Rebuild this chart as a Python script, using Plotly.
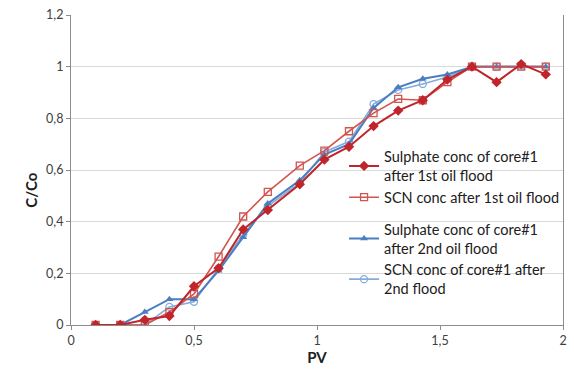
import plotly.graph_objects as go

pv = [0.1, 0.2, 0.3, 0.4, 0.5, 0.6, 0.7, 0.8, 0.93, 1.03, 1.13, 1.23, 1.33, 1.43, 1.53, 1.63, 1.73, 1.83, 1.93]

sulphate_1st = [0.0, 0.0, 0.02, 0.035, 0.15, 0.22, 0.37, 0.445, 0.545, 0.64, 0.69, 0.77, 0.83, 0.87, 0.95, 1.0, 0.94, 1.01, 0.97]
scn_1st      = [0.0, 0.0, 0.0, 0.05, 0.12, 0.265, 0.42, 0.515, 0.617, 0.675, 0.75, 0.82, 0.875, 0.87, 0.94, 1.0, 1.0, 1.0, 1.0]
sulphate_2nd = [0.0, 0.0, 0.05, 0.10, 0.10, 0.21, 0.34, 0.47, 0.56, 0.66, 0.70, 0.84, 0.92, 0.953, 0.97, 1.0, 1.0, 1.0, 1.0]
scn_2nd      = [0.0, 0.0, 0.0, 0.07, 0.09, 0.22, 0.35, 0.46, 0.55, 0.67, 0.71, 0.855, 0.91, 0.933, 0.96, 1.0, 1.0, 1.0, 1.0]

names = [
    "Sulphate conc of core#1<br>after 1st oil flood",
    "SCN conc after 1st oil flood",
    "Sulphate conc of core#1<br>after 2nd oil flood",
    "SCN conc of core#1 after<br>2nd flood",
]

fig = go.Figure()
fig.add_trace(go.Scatter(x=pv, y=scn_2nd, name=names[3], mode="lines+markers",
                         legendgroup="g2", legendrank=4,
                         line=dict(color="#86ABDB", width=1.6),
                         marker=dict(symbol="circle-open", size=7, color="#86ABDB", line=dict(width=1.3))))
fig.add_trace(go.Scatter(x=pv, y=sulphate_2nd, name=names[2], mode="lines+markers",
                         legendgroup="g2", legendrank=3,
                         line=dict(color="#4A7EC0", width=2),
                         marker=dict(symbol="triangle-up", size=7, color="#4A7EC0")))
fig.add_trace(go.Scatter(x=pv, y=scn_1st, name=names[1], mode="lines+markers",
                         legendgroup="g1", legendrank=2,
                         line=dict(color="#D2544F", width=1.6),
                         marker=dict(symbol="square-open", size=7, color="#D2544F", line=dict(width=1.3))))
fig.add_trace(go.Scatter(x=pv, y=sulphate_1st, name=names[0], mode="lines+markers",
                         legendgroup="g1", legendrank=1,
                         line=dict(color="#C0252B", width=2),
                         marker=dict(symbol="diamond", size=8, color="#C0252B")))

fig.update_layout(
    width=574, height=370,
    margin=dict(l=71, r=7, t=14, b=45),
    paper_bgcolor="white", plot_bgcolor="white",
    separators=", ",
    font=dict(family="Lato, Open Sans, sans-serif", size=12.5, color="#404040"),
    showlegend=True,
    legend=dict(x=0.555, y=0.595, xanchor="left", yanchor="top",
                bgcolor="rgba(0,0,0,0)", font=dict(size=14.5, color="#202020"),
                tracegroupgap=10, itemwidth=30, traceorder="grouped"),
    xaxis=dict(range=[0, 2], dtick=0.5, tick0=0, showgrid=False, zeroline=False,
               showline=True, linecolor="#8C8C8C", linewidth=1.2,
               ticks="outside", ticklen=4, tickcolor="#8C8C8C",
               title=dict(text="<b>PV</b>", font=dict(size=15, color="#202020"), standoff=2)),
    yaxis=dict(range=[0, 1.2], dtick=0.2, tick0=0, showgrid=True, gridcolor="#D9D9D9",
               zeroline=False, showline=True, linecolor="#8C8C8C", linewidth=1.2, mirror=True,
               ticks="outside", ticklen=4, tickcolor="#8C8C8C"),
    annotations=[dict(text="<b>C/Co</b>", xref="paper", yref="paper", x=-0.103, y=0.434,
                      textangle=-90, showarrow=False, font=dict(size=15, color="#202020"))],
)

fig.write_html("out.html")
